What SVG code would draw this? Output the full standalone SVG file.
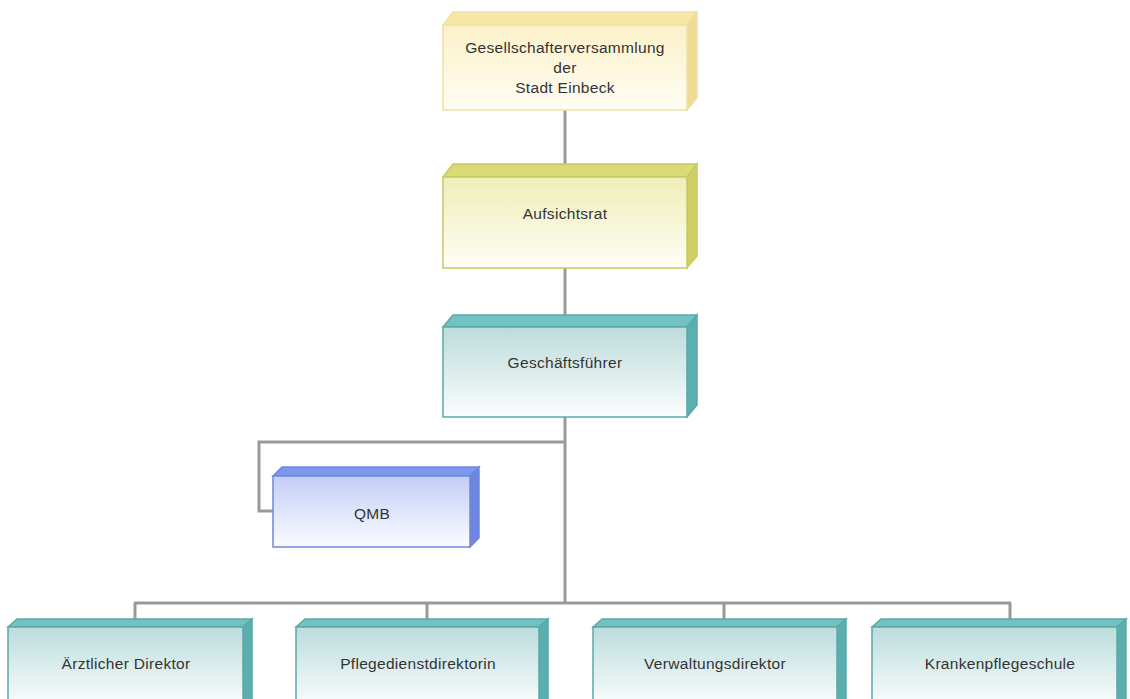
<svg xmlns="http://www.w3.org/2000/svg" width="1130" height="699" viewBox="0 0 1130 699">
<defs>
<linearGradient id="gY" x1="0" y1="0" x2="0" y2="1"><stop offset="0" stop-color="#fbf1c8"/><stop offset="1" stop-color="#fffdf4"/></linearGradient>
<linearGradient id="gO" x1="0" y1="0" x2="0" y2="1"><stop offset="0" stop-color="#eeeeb8"/><stop offset="1" stop-color="#fefef6"/></linearGradient>
<linearGradient id="gT" x1="0" y1="0" x2="0" y2="1"><stop offset="0" stop-color="#bcdcdc"/><stop offset="1" stop-color="#fbfdfd"/></linearGradient>
<linearGradient id="gB" x1="0" y1="0" x2="0" y2="1"><stop offset="0" stop-color="#c3cef6"/><stop offset="1" stop-color="#fbfbff"/></linearGradient>
</defs>
<style>
text{font-family:"Liberation Sans",Arial,sans-serif;font-size:15.5px;letter-spacing:0.3px;fill:#333;text-anchor:middle}
.conn{stroke:#999;stroke-width:3;fill:none}
.y .top{fill:#f6e7a6}.y .side{fill:#efdc92}.y .front{fill:url(#gY)}.y polygon,.y rect{stroke:#efe0a6;stroke-width:1.5}
.o .top{fill:#dada76}.o .side{fill:#cfcf66}.o .front{fill:url(#gO)}.o polygon,.o rect{stroke:#c9c964;stroke-width:1.5}
.t .top{fill:#72c2c2}.t .side{fill:#5cafaf}.t .front{fill:url(#gT)}.t polygon,.t rect{stroke:#5aa9a9;stroke-width:1.5}
.b .top{fill:#7d97ea}.b .side{fill:#6c86e2}.b .front{fill:url(#gB)}.b polygon,.b rect{stroke:#6f88dd;stroke-width:1.5}
</style>
<rect width="1130" height="699" fill="#fff"/>
<g id="connectors">
<line class="conn" x1="565" y1="110" x2="565" y2="164"/>
<line class="conn" x1="565" y1="268" x2="565" y2="315"/>
<line class="conn" x1="565" y1="417" x2="565" y2="603"/>
<polyline class="conn" points="565,442 259,442 259,511 273,511"/>
<line class="conn" x1="134" y1="603" x2="1011" y2="603"/>
<line class="conn" x1="135" y1="603" x2="135" y2="619"/>
<line class="conn" x1="427" y1="603" x2="427" y2="619"/>
<line class="conn" x1="724" y1="603" x2="724" y2="619"/>
<line class="conn" x1="1010" y1="603" x2="1010" y2="619"/>
</g>
<g id="n1" class="y">
<polygon class="top" points="443,25 453,12 697,12 687,25"/>
<polygon class="side" points="687,25 697,12 697,98 687,110"/>
<rect class="front" x="443" y="25" width="244" height="85"/>
<text x="565" y="53">Gesellschafterversammlung</text>
<text x="565" y="73">der</text>
<text x="565" y="93">Stadt Einbeck</text>
</g>
<g id="n2" class="o">
<polygon class="top" points="443,177 453,164 697,164 687,177"/>
<polygon class="side" points="687,177 697,164 697,256 687,268"/>
<rect class="front" x="443" y="177" width="244" height="91"/>
<text x="565" y="219">Aufsichtsrat</text>
</g>
<g id="n3" class="t">
<polygon class="top" points="443,327 453,315 697,315 687,327"/>
<polygon class="side" points="687,327 697,315 697,405 687,417"/>
<rect class="front" x="443" y="327" width="244" height="90"/>
<text x="565" y="368">Geschäftsführer</text>
</g>
<g id="n4" class="b">
<polygon class="top" points="273,476 282,467 479,467 470,476"/>
<polygon class="side" points="470,476 479,467 479,538 470,547"/>
<rect class="front" x="273" y="476" width="197" height="71"/>
<text x="372" y="519">QMB</text>
</g>
<g id="n5" class="t">
<polygon class="top" points="8,627 17,619 252,619 243,627"/>
<polygon class="side" points="243,627 252,619 252,700 243,708"/>
<rect class="front" x="8" y="627" width="235" height="80"/>
<text x="126" y="669">Ärztlicher Direktor</text>
</g>
<g id="n6" class="t">
<polygon class="top" points="296,627 305,619 548,619 539,627"/>
<polygon class="side" points="539,627 548,619 548,700 539,708"/>
<rect class="front" x="296" y="627" width="243" height="80"/>
<text x="418" y="669">Pflegedienstdirektorin</text>
</g>
<g id="n7" class="t">
<polygon class="top" points="593,627 602,619 846,619 837,627"/>
<polygon class="side" points="837,627 846,619 846,700 837,708"/>
<rect class="front" x="593" y="627" width="244" height="80"/>
<text x="715" y="669">Verwaltungsdirektor</text>
</g>
<g id="n8" class="t">
<polygon class="top" points="872,627 881,619 1126,619 1117,627"/>
<polygon class="side" points="1117,627 1126,619 1126,700 1117,708"/>
<rect class="front" x="872" y="627" width="245" height="80"/>
<text x="1000" y="669">Krankenpflegeschule</text>
</g>
</svg>
